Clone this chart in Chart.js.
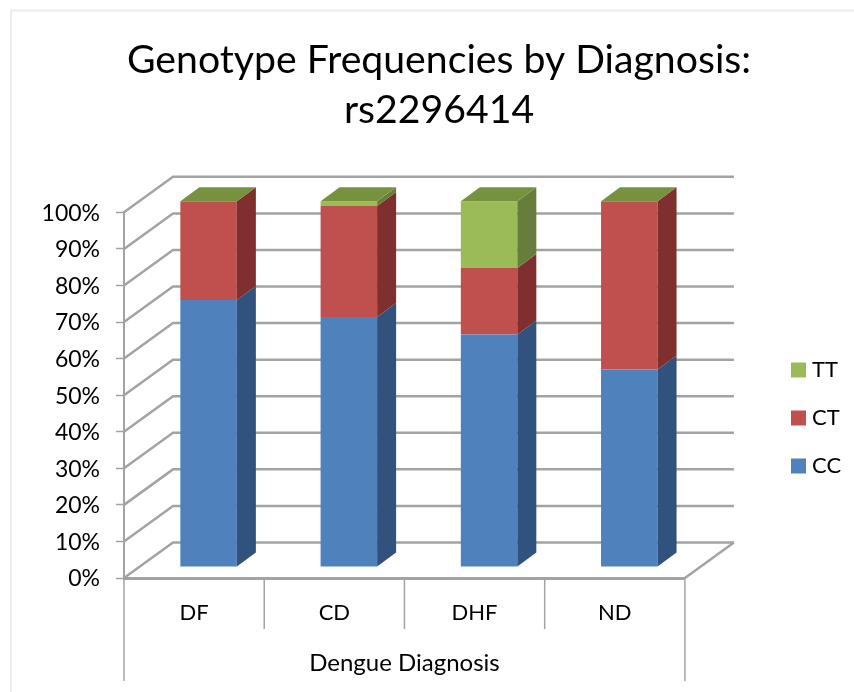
<!DOCTYPE html>
<html>
<head>
<meta charset="utf-8">
<title>Genotype Frequencies by Diagnosis</title>
<script src="https://cdn.jsdelivr.net/npm/chart.js@4"></script>
<style>
html, body { margin: 0; padding: 0; background: #fff; }
#wrap { position: relative; width: 854px; height: 692px; }
</style>
</head>
<body>
<div id="wrap"><canvas id="chart" width="854" height="692"></canvas></div>
<script>
const diagnoses = ['DF', 'CD', 'DHF', 'ND'];
const ccValues = [73, 68.4, 63.6, 54];
const ctValues = [27, 30.3, 18.2, 46];
const ttValues = [0, 1.3, 18.2, 0];
const yTicks = [0, 10, 20, 30, 40, 50, 60, 70, 80, 90, 100];

const lineGrey = '#a3a3a3';
const wallDepth = { x: 49, y: -35.5 }; // offset of back wall from the front plane
const barShift = { x: 14.5, y: -11 };  // where the bars stand on the floor
const barDepth = { x: 19, y: -14 };

const sideColors = ['#30527c', '#7f302e', '#667d3b'];
const topColor = '#76923f';

const fake3d = {
    id: 'fake3d',
    afterLayout(chart) {
        // legend sits further right than chart.js would put it
        const lg = chart.legend;
        lg.left = 770;
        lg.right = 854;
        lg.top = 178;
        lg.bottom = 658;
        // title is centred a bit right of the plot
        chart.titleBlock.left = 24;
        chart.titleBlock.right = 854;
    },
    beforeDraw(chart) {
        // faint frame left over from the slide
        const { ctx } = chart;
        ctx.save();
        ctx.strokeStyle = '#ececec';
        ctx.lineWidth = 2;
        ctx.beginPath();
        ctx.moveTo(11, 692);
        ctx.lineTo(11, 10.5);
        ctx.lineTo(854, 10.5);
        ctx.stroke();
        ctx.restore();
    },
    beforeDatasetsDraw(chart) {
        const { ctx, scales: { x, y } } = chart;
        const left = x.left, right = x.right, floor = y.getPixelForValue(0);

        ctx.save();
        ctx.strokeStyle = lineGrey;
        ctx.lineWidth = 2.5;
        yTicks.forEach(v => {
            const py = y.getPixelForValue(v);
            ctx.beginPath();
            ctx.moveTo(left, py);
            ctx.lineTo(left + wallDepth.x, py + wallDepth.y);
            ctx.lineTo(right + wallDepth.x, py + wallDepth.y);
            ctx.stroke();
        });
        // floor edge on the right
        ctx.beginPath();
        ctx.moveTo(right, floor);
        ctx.lineTo(right + wallDepth.x, floor + wallDepth.y);
        ctx.stroke();

        // category separators under the axis
        ctx.lineWidth = 1.5;
        diagnoses.concat('').forEach((c, i) => {
            const px = left + (right - left) * i / diagnoses.length;
            const outer = i === 0 || i === diagnoses.length;
            ctx.beginPath();
            ctx.moveTo(px, floor);
            ctx.lineTo(px, floor + (outer ? 103 : 51));
            ctx.stroke();
        });
        ctx.restore();

        ctx.save();
        ctx.translate(barShift.x, barShift.y);
    },
    afterDatasetsDraw(chart) {
        const { ctx } = chart;
        chart.data.datasets.forEach((ds, i) => {
            chart.getDatasetMeta(i).data.forEach(bar => {
                const right = bar.x + bar.width / 2;
                const left = bar.x - bar.width / 2;
                // side face
                ctx.fillStyle = sideColors[i];
                ctx.beginPath();
                ctx.moveTo(right, bar.base);
                ctx.lineTo(right + barDepth.x, bar.base + barDepth.y);
                ctx.lineTo(right + barDepth.x, bar.y + barDepth.y);
                ctx.lineTo(right, bar.y);
                ctx.closePath();
                ctx.fill();
                // top face, only on the last stack
                if (i === chart.data.datasets.length - 1) {
                    ctx.fillStyle = topColor;
                    ctx.beginPath();
                    ctx.moveTo(left, bar.y);
                    ctx.lineTo(left + barDepth.x, bar.y + barDepth.y);
                    ctx.lineTo(right + barDepth.x, bar.y + barDepth.y);
                    ctx.lineTo(right, bar.y);
                    ctx.closePath();
                    ctx.fill();
                }
            });
        });
        ctx.restore();
    }
};

const labelFont = { family: 'Lato', size: 22 };

new Chart(document.getElementById('chart'), {
    type: 'bar',
    data: {
        labels: diagnoses,
        datasets: [
            { label: 'CC', data: ccValues, backgroundColor: '#4f81bd' },
            { label: 'CT', data: ctValues, backgroundColor: '#c0504d' },
            { label: 'TT', data: ttValues, backgroundColor: '#9bbb59' }
        ]
    },
    options: {
        responsive: false,
        animation: false,
        events: [],
        layout: { padding: { left: 24, right: 88, top: 0, bottom: 0 } },
        datasets: { bar: { barPercentage: 0.403, categoryPercentage: 1, clip: false, borderWidth: 0 } },
        scales: {
            x: {
                stacked: true,
                afterFit(scale) { scale.height = 114; },
                grid: { display: false, drawOnChartArea: false, drawTicks: false },
                border: { display: true, color: lineGrey, width: 3 },
                ticks: { color: '#000', font: labelFont, padding: 22, maxRotation: 0 },
                title: { display: true, text: 'Dengue Diagnosis', color: '#000', font: { family: 'Lato', size: 24 }, padding: { top: 0, bottom: 14 } }
            },
            y: {
                stacked: true,
                min: 0,
                max: 100,
                afterFit(scale) { scale.width = 100; },
                afterBuildTicks(scale) { scale.ticks = yTicks.map(v => ({ value: v })); },
                grid: { display: true, drawOnChartArea: false, drawTicks: true, tickLength: 8, tickColor: lineGrey, tickWidth: 1.5 },
                border: { display: true, color: lineGrey, width: 2 },
                ticks: { color: '#000', font: { family: 'Lato', size: 23 }, padding: 16, labelOffset: 1, callback: v => v + '%' }
            }
        },
        plugins: {
            tooltip: { enabled: false },
            title: {
                display: true,
                text: ['Genotype Frequencies by Diagnosis:', 'rs2296414'],
                color: '#000',
                font: { family: 'Lato', size: 39.2, weight: 'normal', lineHeight: 1.28 },
                padding: { top: 35, bottom: 77 }
            },
            legend: {
                position: 'right',
                reverse: true,
                labels: {
                    color: '#000',
                    font: labelFont,
                    usePointStyle: true,
                    pointStyle: 'rect',
                    boxWidth: 5,
                    boxHeight: 15,
                    padding: 26
                }
            }
        }
    },
    plugins: [fake3d]
});
</script>
</body>
</html>
